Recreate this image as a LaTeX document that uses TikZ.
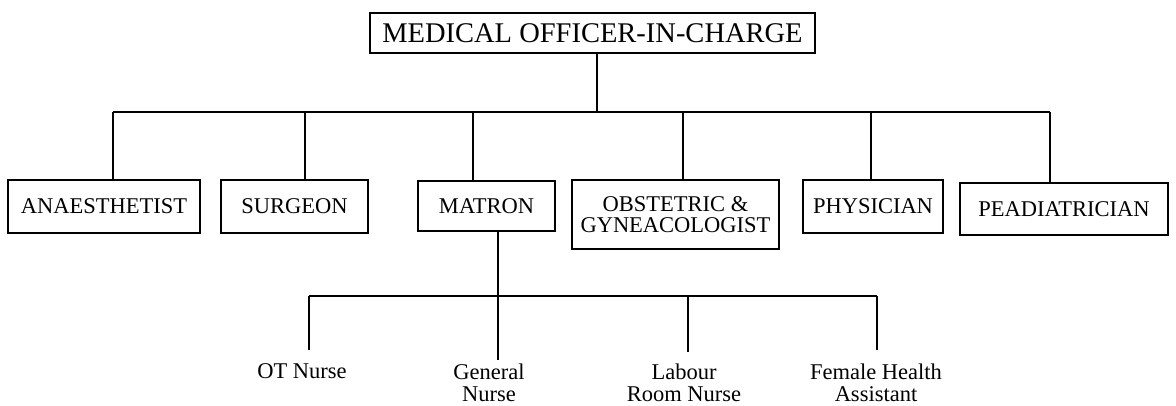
\documentclass[tikz,border=0pt]{standalone}
\usepackage{fontspec}
\setmainfont{Liberation Serif}
\usetikzlibrary{calc}
\begin{document}
\begin{tikzpicture}[x=1pt,y=1pt,
  box/.style={draw,line width=2.6pt,inner sep=0pt,align=center,font=\fontsize{22.5}{21}\selectfont},
  lbl/.style={inner sep=0pt,align=center,anchor=north,font=\fontsize{22.5}{22}\selectfont},
  conn/.style={line width=2.6pt}]
\useasboundingbox (0,0) rectangle (1176,405);
% top
\node[box,minimum width=445,minimum height=40,font=\fontsize{28.5}{30}\selectfont] (moc) at (592.5,372) {MEDICAL OFFICER-IN-CHARGE};
% second level
\node[box,minimum width=192,minimum height=53] (ana) at (104,198.5) {ANAESTHETIST};
\node[box,minimum width=147,minimum height=53] (sur) at (294.5,198.5) {SURGEON};
\node[box,minimum width=137,minimum height=50] (mat) at (486.5,199) {MATRON};
\node[box,minimum width=207,minimum height=69] (obs) at (675.5,190.5) {OBSTETRIC \&\\GYNEACOLOGIST};
\node[box,minimum width=140,minimum height=53] (phy) at (873,198.5) {PHYSICIAN};
\node[box,minimum width=208,minimum height=52] (ped) at (1064,196) {PEADIATRICIAN};
% third level labels
\node[lbl] (otn) at (302,41.5) {OT Nurse};
\node[lbl] (gen) at (489,41.5) {General\\Nurse};
\node[lbl] (lab) at (684,41.5) {Labour\\Room Nurse};
\node[lbl] (fha) at (876,41.5) {Female Health\\Assistant};
% connector points
\coordinate (bar) at (597,293);
\coordinate (dA) at (113,293);
\coordinate (dS) at (305,293);
\coordinate (dM) at (473,293);
\coordinate (dO) at (683,293);
\coordinate (dP) at (871,293);
\coordinate (dQ) at (1050,293);
\coordinate (bO) at (309,109);
\coordinate (bL) at (688,109);
\coordinate (bF) at (877,109);
\coordinate (gEnd) at (498,45);
% connectors
\draw[conn] (moc.south -| bar) -- (bar);
\draw[conn] (dA) -- (dQ);
\draw[conn] (dA) -- (dA |- ana.north);
\draw[conn] (dS) -- (dS |- sur.north);
\draw[conn] (dM) -- (dM |- mat.north);
\draw[conn] (dO) -- (dO |- obs.north);
\draw[conn] (dP) -- (dP |- phy.north);
\draw[conn] (dQ) -- (dQ |- ped.north);
\draw[conn] (mat.south -| gEnd) -- (gEnd);
\draw[conn] (bO) -- (bF);
\draw[conn] (bO) -- ($(bO |- otn.north)+(0,14)$);
\draw[conn] (bL) -- ($(bL |- lab.north)+(0,12)$);
\draw[conn] (bF) -- ($(bF |- fha.north)+(0,14)$);
\end{tikzpicture}
\end{document}
